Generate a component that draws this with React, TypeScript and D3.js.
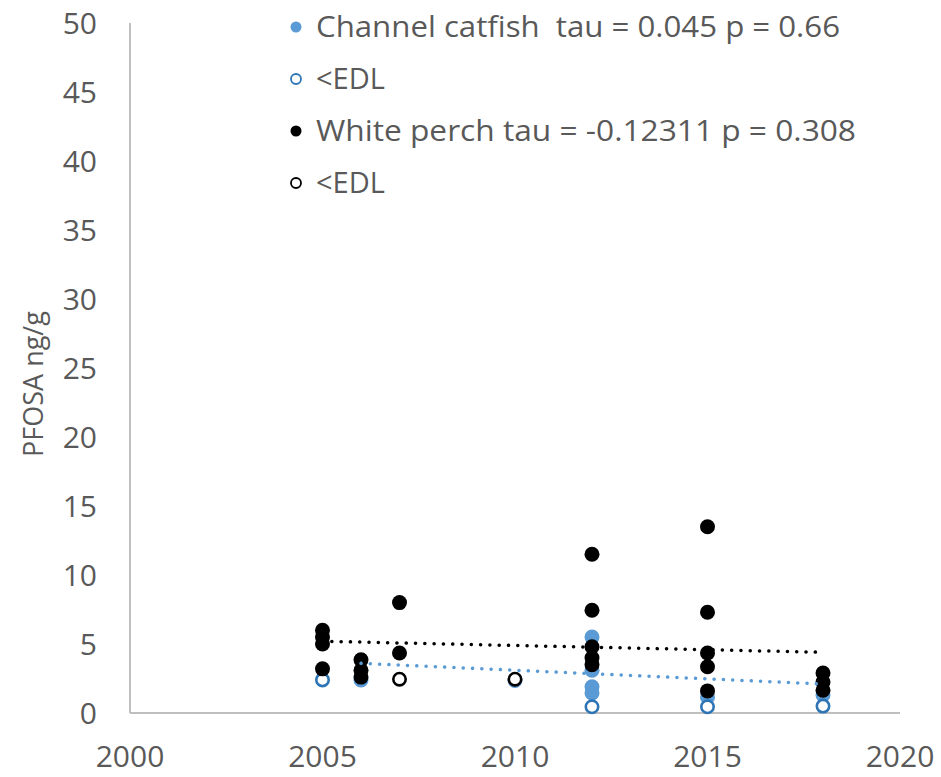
import React from "react";
import * as d3 from "d3";

// Channel catfish detected concentrations (ng/g) by sampling year
const catfishYears = [2006, 2010, 2012, 2012, 2012, 2012, 2015, 2018];
const catfishValues = [2.4, 2.35, 5.5, 3.1, 1.9, 1.45, 1.15, 1.3];
// Channel catfish samples below the detection limit
const catfishEdlYears = [2005, 2012, 2015, 2018];
const catfishEdlValues = [2.4, 0.45, 0.45, 0.5];
// White perch detected concentrations
const perchYears = [
  2005, 2005, 2005, 2005, 2006, 2006, 2006, 2007, 2007, 2012, 2012, 2012, 2012,
  2012, 2015, 2015, 2015, 2015, 2015, 2018, 2018, 2018,
];
const perchValues = [
  6.0, 5.5, 5.0, 3.2, 3.85, 3.1, 2.6, 8.0, 4.35, 11.5, 7.45, 4.8, 4.0, 3.5,
  13.5, 7.3, 4.35, 3.35, 1.6, 2.9, 2.25, 1.65,
];
// White perch samples below the detection limit
const perchEdlYears = [2007, 2010];
const perchEdlValues = [2.45, 2.45];
// Linear trend endpoints [start year, end year] and [start value, end value]
const catfishTrendYears = [2006, 2018];
const catfishTrendValues = [3.6, 2.1];
const perchTrendYears = [2005, 2018];
const perchTrendValues = [5.2, 4.4];

const xTicks = [2000, 2005, 2010, 2015, 2020];
const yTicks = [0, 5, 10, 15, 20, 25, 30, 35, 40, 45, 50];
const legendLabels = [
  "Channel catfish  tau = 0.045 p = 0.66",
  "<EDL",
  "White perch tau = -0.12311 p = 0.308",
  "<EDL",
];

const W = 941;
const H = 777;
const FONT = "'Open Sans', 'Liberation Sans', sans-serif";
const TEXT = "#595959";
const AXIS = "#bfbfbf";
const BLUE = "#5b9bd5";
const BLUE_DARK = "#2e75b6";

export default function App() {
  const x = d3.scaleLinear().domain([2000, 2020]).range([130, 900]);
  const y = d3.scaleLinear().domain([0, 50]).range([713, 23]);
  const trend = d3
    .line<[number, number]>()
    .x((d) => x(d[0]))
    .y((d) => y(d[1]));

  const pts = (xs: number[], vs: number[]) => xs.map((v, i) => [v, vs[i]] as [number, number]);

  const legendRows = [27, 79, 131, 183];
  const legendWidths = [524, 0, 540, 0];

  return (
    <svg
      width={W}
      height={H}
      style={{ position: "absolute", left: 0, top: 0, background: "#fff" }}
      fontFamily={FONT}
    >
      {/* axes */}
      <line x1={x(2000)} x2={x(2000)} y1={y(50)} y2={y(0)} stroke={AXIS} strokeWidth={2} />
      <line x1={x(2000)} x2={x(2020)} y1={y(0)} y2={y(0)} stroke={AXIS} strokeWidth={2} />

      {yTicks.map((t) => (
        <text key={t} x={97} y={y(t)} dy="0.36em" textAnchor="end" fontSize={30} fill={TEXT}>
          {t}
        </text>
      ))}
      {xTicks.map((t) => (
        <text key={t} x={x(t)} y={767} textAnchor="middle" fontSize={30} fill={TEXT}>
          {t}
        </text>
      ))}
      <text
        transform={`translate(43,384) rotate(-90)`}
        textAnchor="middle"
        fontSize={27}
        fill={TEXT}
      >
        PFOSA ng/g
      </text>

      {/* data points */}
      {pts(catfishYears, catfishValues).map((d, i) => (
        <circle key={"cf" + i} cx={x(d[0])} cy={y(d[1])} r={7.5} fill={BLUE} />
      ))}
      {pts(catfishEdlYears, catfishEdlValues).map((d, i) => (
        <circle key={"ce" + i} cx={x(d[0])} cy={y(d[1])} r={6.2} fill="#fff" stroke={BLUE_DARK} strokeWidth={2.6} />
      ))}
      {pts(perchYears, perchValues).map((d, i) => (
        <circle key={"wp" + i} cx={x(d[0])} cy={y(d[1])} r={7.5} fill="#000" />
      ))}
      {pts(perchEdlYears, perchEdlValues).map((d, i) => (
        <circle key={"we" + i} cx={x(d[0])} cy={y(d[1])} r={6.2} fill="#fff" stroke="#000" strokeWidth={2.6} />
      ))}

      {/* trend lines */}
      <path
        d={trend(pts(catfishTrendYears, catfishTrendValues)) || ""}
        stroke={BLUE}
        strokeWidth={3.5}
        strokeDasharray="0.1 9.2"
        strokeLinecap="round"
        fill="none"
      />
      <path
        d={trend(pts(perchTrendYears, perchTrendValues)) || ""}
        stroke="#000"
        strokeWidth={3.5}
        strokeDasharray="0.1 9.2"
        strokeLinecap="round"
        fill="none"
      />

      {/* legend */}
      <circle cx={296} cy={legendRows[0]} r={5.5} fill={BLUE} />
      <circle cx={296} cy={legendRows[1]} r={5} fill="#fff" stroke={BLUE_DARK} strokeWidth={1.8} />
      <circle cx={296} cy={legendRows[2]} r={5.5} fill="#000" />
      <circle cx={296} cy={legendRows[3]} r={5} fill="#fff" stroke="#000" strokeWidth={1.8} />
      {legendLabels.map((l, i) => (
        <text
          key={i}
          x={316}
          y={legendRows[i]}
          dy="0.36em"
          fontSize={29}
          fill={TEXT}
          style={{ whiteSpace: "pre" }}
          {...(legendWidths[i] ? { textLength: legendWidths[i], lengthAdjust: "spacingAndGlyphs" } : {})}
        >
          {l}
        </text>
      ))}
    </svg>
  );
}
